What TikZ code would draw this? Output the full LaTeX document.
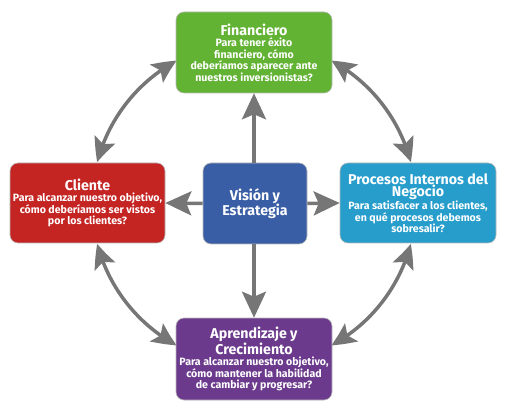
\documentclass[tikz,border=0pt]{standalone}
\usepackage{fontspec}
\setmainfont{Fira Sans}
\usetikzlibrary{arrows.meta,bending}
\definecolor{cgreen}{RGB}{98,178,52}
\definecolor{cred}{RGB}{196,36,34}
\definecolor{ccyan}{RGB}{38,157,203}
\definecolor{cpurple}{RGB}{107,58,140}
\definecolor{cblue}{RGB}{58,94,166}
\definecolor{carrow}{RGB}{118,118,118}
\tikzset{
  boxst/.style={draw=gray!55, line width=0.6pt, rounded corners=8pt, text=white,
    align=center, minimum width=156pt, minimum height=81pt, inner sep=1pt,
    font=\bfseries\fontsize{10.6}{11.5}\selectfont},
  arrst/.style={draw=carrow, line width=3.5pt,
    -{Stealth[length=26pt,width=24pt,inset=5pt]}},
  arcst/.style={draw=carrow, line width=3.5pt,
    {Stealth[length=24pt,width=22pt,inset=5pt,bend]}-{Stealth[length=24pt,width=22pt,inset=5pt,bend]}},
}
\newcommand{\ttlfont}{\fontsize{14.2}{15.5}\selectfont}
\begin{document}
\begin{tikzpicture}[x=1pt,y=1pt]
\useasboundingbox (0,0) rectangle (522,418);
\coordinate (c) at (254,215);
% arcs
\draw[arcst] (c) ++(118.5:162) arc[start angle=118.5,end angle=165.4,radius=162];
\draw[arcst] (c) ++(61.5:162) arc[start angle=61.5,end angle=14.6,radius=162];
\draw[arcst] (c) ++(-14.6:162) arc[start angle=-14.6,end angle=-61.5,radius=162];
\draw[arcst] (c) ++(194.6:162) arc[start angle=194.6,end angle=241.5,radius=162];
% boxes
\node[boxst, fill=cgreen] (fin) at (254,365.5) {{\ttlfont Financiero}\\Para tener éxito\\financiero, cómo\\deberíamos aparecer ante\\nuestros inversionistas?};
\node[boxst, fill=cred, minimum width=155pt, minimum height=80pt] (cli) at (87.5,215) {{\ttlfont Cliente}\\Para alcanzar nuestro objetivo,\\cómo deberíamos ser vistos\\por los clientes?};
\node[boxst, fill=ccyan, minimum height=80pt] (pro) at (418,215) {{\ttlfont Procesos Internos del}\\{\ttlfont Negocio}\\Para satisfacer a los clientes,\\en qué procesos debemos\\sobresalir?};
\node[boxst, fill=cpurple, minimum height=82pt] (apr) at (254,59) {{\ttlfont Aprendizaje y}\\{\ttlfont Crecimiento}\\Para alcanzar nuestro objetivo,\\cómo mantener la habilidad\\de cambiar y progresar?};
\node[boxst, fill=cblue, minimum width=104pt] (vis) at (255,214.5) {{\ttlfont Visión y}\\{\ttlfont Estrategia}};
% straight arrows
\draw[arrst] (vis.north -| fin.south) -- (fin.south);
\draw[arrst] (vis.west) -- (cli.east);
\draw[arrst] (vis.east) -- (pro.west);
\draw[arrst] (vis.south -| apr.north) -- (apr.north);
\end{tikzpicture}
\end{document}
